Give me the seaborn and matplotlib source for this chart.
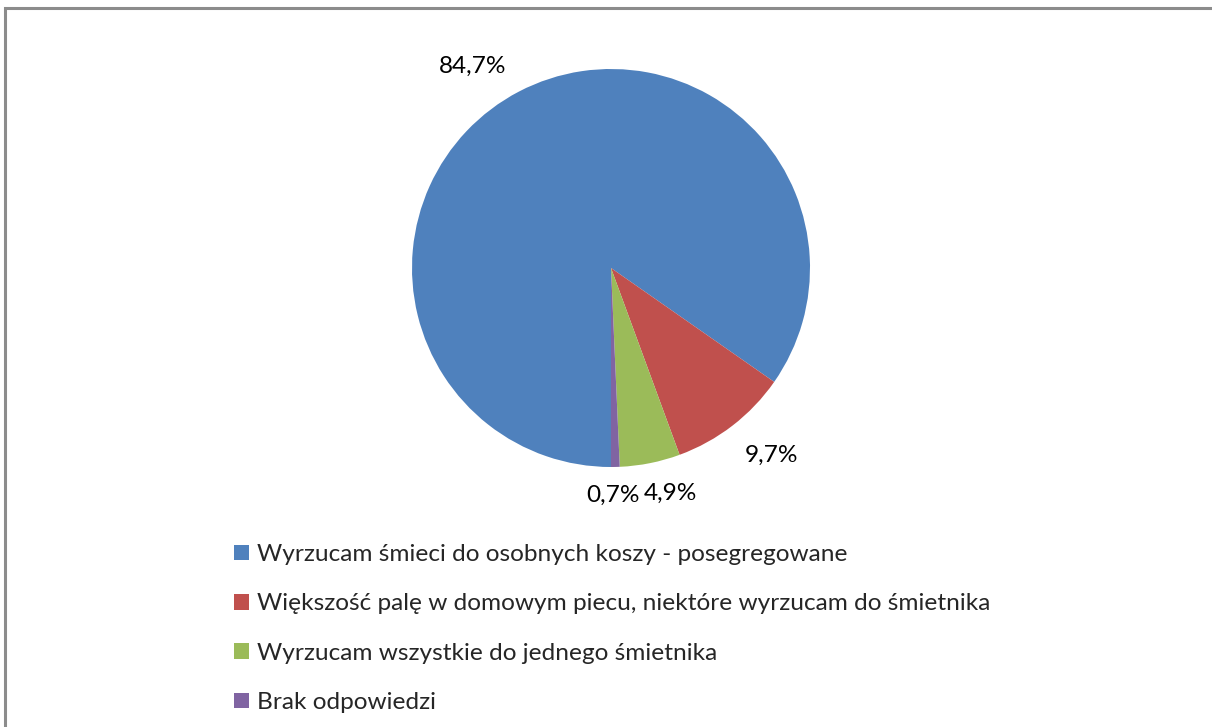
import numpy as np
import matplotlib
matplotlib.use("Agg")
import matplotlib.pyplot as plt
from matplotlib.patches import Rectangle, Patch
import seaborn as sns

sns.set_theme(style="white")
plt.rcParams["font.family"] = ["Lato", "DejaVu Sans"]

categories = [
    "Wyrzucam śmieci do osobnych koszy - posegregowane",
    "Większość palę w domowym piecu, niektóre wyrzucam do śmietnika",
    "Wyrzucam wszystkie do jednego śmietnika",
    "Brak odpowiedzi",
]
values = [84.7, 9.7, 4.9, 0.7]
value_labels = ["84,7%", "9,7%", "4,9%", "0,7%"]
colors = ["#4F81BD", "#C0504D", "#9BBB59", "#8064A2"]

W, H = 1212, 727
FS = 17.6
fig = plt.figure(figsize=(W / 100, H / 100), dpi=100)
fig.patch.set_facecolor("white")

# chart frame
fig.add_artist(Rectangle((5 / W, -0.05), 1.1, 1 - 8 / H + 0.05,
                         transform=fig.transFigure, fill=False,
                         edgecolor="#8c8c8c", linewidth=2.2))

cx, cy, r = 611, 268, 199
ax = fig.add_axes([(cx - r) / W, 1 - (cy + r) / H, 2 * r / W, 2 * r / H])
wedges, _ = ax.pie(values, colors=colors, startangle=-90, counterclock=False,
                   radius=1.0, wedgeprops=dict(linewidth=0))
ax.set_xlim(-1, 1)
ax.set_ylim(-1, 1)
ax.set_aspect("equal")
ax.axis("off")

# label placement: (angle shift in degrees, distance in radii)
label_layout = [(7.0, 1.23), (3.0, 1.24), (3.5, 1.17), (-0.8, 1.14)]
for w, txt, (da, dist) in zip(wedges, value_labels, label_layout):
    mid = np.deg2rad((w.theta1 + w.theta2) / 2 + da)
    ax.text(dist * np.cos(mid), dist * np.sin(mid), txt, ha="center",
            va="center", fontsize=FS, color="black", clip_on=False)

handles = [Patch(facecolor=c, edgecolor="none") for c in colors]
fig.legend(handles, categories, loc="upper left",
           bbox_to_anchor=(234 / W, 1 - 544 / H), frameon=False,
           fontsize=FS, handlelength=0.6, handleheight=0.6,
           handletextpad=0.33, labelspacing=1.16, borderpad=0, borderaxespad=0)

fig.savefig("out.png", dpi=100, facecolor="white")
